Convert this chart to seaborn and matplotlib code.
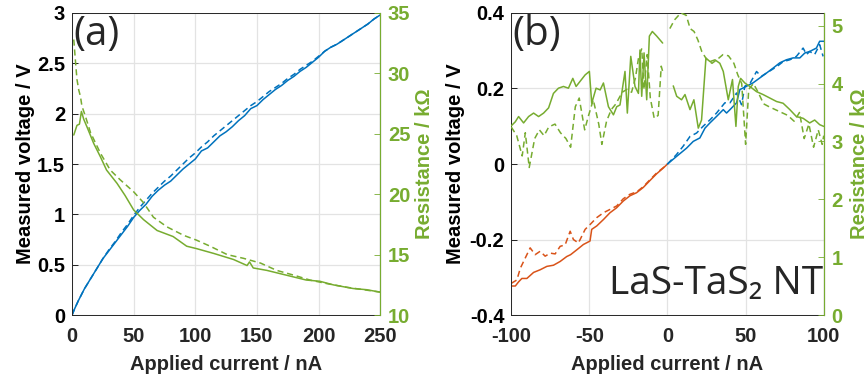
import pandas as pd
import seaborn as sns
import matplotlib.pyplot as plt
import numpy as np

BLUE = '#0072BD'
ORANGE = '#D95319'
GREEN = '#77AC30'
DARK = '#262626'

# ---- panel (a): 0..250 nA ----
cur_a = [0, 2, 5, 10, 15, 20, 25, 30, 35, 40, 45, 50, 55, 60, 65, 70, 75, 80, 85, 90,
         95, 100, 105, 110, 115, 120, 125, 130, 135, 140, 145, 150, 155, 160, 165, 170,
         175, 180, 185, 190, 195, 200, 205, 210, 215, 220, 225, 230, 235, 240, 245, 250]
volt_a_solid = [0, 0.06, 0.14, 0.26, 0.36, 0.46, 0.56, 0.64, 0.72, 0.80, 0.88, 0.97, 1.04,
                1.10, 1.18, 1.24, 1.29, 1.33, 1.39, 1.45, 1.50, 1.55, 1.63, 1.66, 1.72, 1.78,
                1.82, 1.87, 1.93, 1.98, 2.05, 2.08, 2.14, 2.19, 2.24, 2.28, 2.33, 2.37, 2.42,
                2.46, 2.51, 2.56, 2.62, 2.66, 2.69, 2.73, 2.77, 2.81, 2.85, 2.89, 2.94, 2.98]
volt_a_dash = [0, 0.06, 0.14, 0.26, 0.36, 0.46, 0.56, 0.65, 0.73, 0.82, 0.90, 0.99, 1.07,
               1.14, 1.21, 1.27, 1.33, 1.38, 1.44, 1.50, 1.56, 1.61, 1.67, 1.72, 1.78, 1.83,
               1.88, 1.93, 1.98, 2.03, 2.08, 2.12, 2.17, 2.22, 2.26, 2.30, 2.35, 2.39, 2.44,
               2.48, 2.52, 2.57, 2.62, 2.66, 2.69, 2.73, 2.77, 2.81, 2.85, 2.89, 2.94, 2.98]

res_a_cur_solid = [1.4, 4, 6, 7.6, 9.5, 12, 17.6, 23, 28, 36.5, 43, 50, 58, 69, 82, 93, 101,
                   115, 131, 142, 144, 147, 158, 174, 190, 201, 212, 228, 239, 250]
res_a_solid = [24.9, 25.7, 25.8, 26.85, 26.2, 25.6, 24.2, 23.1, 22.0, 20.9, 19.9, 18.7, 17.9,
               17.0, 16.5, 15.7, 15.5, 15.1, 14.6, 14.1, 14.4, 13.9, 13.7, 13.3, 12.9, 12.8,
               12.5, 12.2, 12.1, 11.9]
res_a_cur_dash = [1.4, 2.7, 4, 5.5, 6.8, 8, 11, 15, 23, 31, 39, 50, 58, 66, 77, 90.5, 101,
                  112, 126, 139, 153, 166, 180, 193, 207, 223, 250]
res_a_dash = [32.8, 31.1, 29.5, 28.6, 28.1, 27.3, 26.4, 25.1, 23.4, 22.0, 21.2, 20.2, 19.3,
              18.1, 17.3, 16.6, 16.2, 15.7, 15.0, 14.7, 14.3, 13.7, 13.3, 12.9, 12.6, 12.3, 11.9]

# ---- panel (b): -100..100 nA ----
cur_b_neg_solid = [-100, -97.4, -95.3, -93.2, -90, -85.7, -81.5, -77.2, -73, -68.7, -64.5,
                   -62, -58, -53.8, -49.6, -48.5, -45.3, -41, -36.8, -32.6, -28.3, -24,
                   -19.8, -15.5, -11.3, -7, -2.8, 0]
volt_b_neg_solid = [-0.323, -0.323, -0.312, -0.303, -0.303, -0.287, -0.28, -0.271, -0.268,
                    -0.258, -0.245, -0.24, -0.227, -0.213, -0.204, -0.173, -0.164, -0.147,
                    -0.129, -0.116, -0.098, -0.084, -0.076, -0.062, -0.044, -0.026, -0.011, 0]
cur_b_neg_dash = [-100, -96.4, -94.2, -92.1, -87.9, -84.7, -81.5, -78.3, -75, -71.9, -68.7,
                  -65.5, -62.3, -60.2, -57, -52.7, -49.5, -45.3, -41, -36.7, -32.5, -28.3,
                  -24, -19.8, -15.5, -11.3, -7, -2.8, 0]
volt_b_neg_dash = [-0.316, -0.307, -0.276, -0.258, -0.222, -0.24, -0.231, -0.244, -0.236,
                   -0.238, -0.218, -0.214, -0.178, -0.2, -0.209, -0.173, -0.16, -0.142,
                   -0.129, -0.12, -0.111, -0.092, -0.08, -0.074, -0.06, -0.042, -0.024,
                   -0.01, 0]
cur_b_pos_solid = [0, 5.75, 12.2, 16.5, 20.7, 24, 27.2, 31.4, 35.7, 37.8, 40, 44.2, 46.3,
                   50.6, 54.8, 59.1, 63.4, 67.6, 71.9, 76.1, 80.4, 84.7, 87.9, 91, 95.3,
                   97.4, 100]
volt_b_pos_solid = [0, 0.02, 0.042, 0.06, 0.069, 0.095, 0.109, 0.126, 0.144, 0.135, 0.144,
                    0.162, 0.197, 0.206, 0.215, 0.228, 0.241, 0.254, 0.268, 0.276, 0.281,
                    0.281, 0.294, 0.298, 0.307, 0.325, 0.325]
cur_b_pos_dash = [0, 5.75, 10, 14.4, 18.6, 22.8, 27.2, 31.4, 36.7, 40, 44.2, 47.4, 49.5,
                  53, 57, 60, 63.4, 70, 74, 78.3, 82.5, 86.8, 89, 91, 94.2, 97.4, 99.6]
volt_b_pos_dash = [0, 0.025, 0.047, 0.073, 0.082, 0.1, 0.117, 0.135, 0.162, 0.162, 0.188,
                   0.157, 0.206, 0.215, 0.245, 0.232, 0.241, 0.258, 0.271, 0.276, 0.285,
                   0.307, 0.29, 0.298, 0.29, 0.316, 0.285]

res_b_cur_neg_solid = [-100, -97.4, -95.3, -92.1, -88.9, -85.7, -82.5, -79.3, -76.1, -73,
                       -69.8, -66.6, -63.4, -60.6, -58.5, -55.9, -52.7, -50, -48.5, -45.7,
                       -43.1, -41, -37.8, -34.6, -32.5, -30.4, -27.2, -25.7, -23.5, -20.8,
                       -18.6, -17.6, -16.5, -15, -13.3, -11.6, -9.7, -6.9, -3.1]
res_b_neg_solid = [3.27, 3.34, 3.43, 3.32, 3.43, 3.49, 3.43, 3.49, 3.58, 3.83, 3.92, 3.95,
                   3.92, 4.09, 3.95, 4.04, 4.15, 4.21, 3.66, 3.92, 3.89, 4.01, 3.60, 3.46,
                   3.6, 3.63, 4.21, 3.49, 4.47, 3.95, 3.83, 4.58, 3.78, 4.53, 3.72, 4.82,
                   4.9, 4.82, 4.7]
res_b_cur_pos_solid = [3.7, 5.9, 9, 11.2, 14.4, 16.9, 19.7, 21.8, 24.6, 27.2, 30.4, 33.5,
                       35.7, 38.9, 41.6, 43.8, 45.3, 46.8, 49.5, 52.7, 57, 61.2, 65.5, 69.8,
                       74, 78.3, 82.5, 86.8, 91, 94.2, 97.4, 100]
res_b_pos_solid = [3.96, 3.78, 3.72, 3.81, 3.55, 3.72, 3.23, 3.37, 4.44, 4.38, 4.41, 4.35,
                   4.21, 3.72, 4.07, 3.26, 3.95, 4.09, 4.01, 3.95, 3.86, 3.81, 3.75, 3.69,
                   3.66, 3.55, 3.43, 3.40, 3.32, 3.37, 3.29, 3.26]
res_b_cur_neg_dash = [-100, -96.5, -93, -91, -88.5, -85, -82, -79, -76, -72, -68.5, -65,
                      -62, -59, -56.5, -53, -50.5, -47.5, -44, -42, -39, -36, -33, -29,
                      -26, -23, -20.5, -18.5, -16.5, -15, -13, -11, -8.5, -6, -4, -3]
res_b_neg_dash = [3.25, 3.1, 2.75, 3.15, 2.55, 3.05, 3.2, 3.1, 3.25, 3.3, 3.15, 3.05, 2.9,
                  3.6, 3.75, 3.2, 3.45, 3.72, 3.3, 2.95, 3.35, 3.55, 3.65, 3.85, 3.9, 3.85,
                  4.1, 4.45, 4.6, 3.9, 4.5, 3.75, 3.4, 3.45, 4.3, 4.2]
res_b_cur_pos_dash = [1.5, 4.5, 8.5, 12, 14.5, 17, 19.5, 22, 25, 28.5, 32, 35.5, 39, 42.5,
                      45, 47.5, 50, 52, 55, 58, 61.5, 65, 69, 73, 77, 81, 84.5, 87.5, 90.5,
                      93.5, 96.5, 99, 100]
res_b_pos_dash = [4.95, 5.1, 5.22, 5.18, 4.95, 4.9, 4.75, 4.55, 4.42, 4.35, 4.42, 4.5, 4.48,
                  4.35, 4.15, 4.0, 2.95, 3.9, 4.0, 3.85, 3.65, 3.6, 3.55, 3.5, 3.45, 3.35,
                  3.5, 3.05, 3.3, 2.9, 3.2, 2.95, 3.1]

sns.set_style("white")
plt.rcParams['font.family'] = ['Liberation Sans', 'DejaVu Sans']


def line(ax, x, y, color, dashed=False):
    d = pd.DataFrame({'x': x, 'y': y})
    sns.lineplot(data=d, x='x', y='y', ax=ax, color=color, lw=1.1, sort=False,
                 estimator=None, linestyle=(0, (4, 2.5)) if dashed else '-')


def style(ax, ax2, xlim, xticks, ylim, yticks, ylim2, yticks2, lab_l, lab_r):
    ax.set_xlim(*xlim)
    ax.set_ylim(*ylim)
    ax2.set_ylim(*ylim2)
    ax.set_xticks(xticks)
    ax.set_yticks(yticks)
    ax2.set_yticks(yticks2)
    fs = 14.5
    ax.set_xticklabels([f'{v:g}' for v in xticks], fontweight='bold', fontsize=fs, color=DARK)
    ax.set_yticklabels([f'{v:g}' for v in yticks], fontweight='bold', fontsize=fs, color='black')
    ax2.set_yticklabels([f'{v:g}' for v in yticks2], fontweight='bold', fontsize=fs, color=GREEN)
    ax.grid(True, color='#e3e3e3', lw=0.9)
    ax.set_axisbelow(True)
    ax.tick_params(axis='x', direction='in', length=4, width=0.6, pad=8.5, colors=DARK)
    ax.tick_params(axis='y', direction='in', length=4, width=0.6, pad=5, colors='black')
    ax2.tick_params(direction='in', length=4, width=0.6, colors=GREEN, pad=5.5)
    for s in ['left', 'bottom', 'top']:
        ax.spines[s].set_color(DARK)
        ax.spines[s].set_linewidth(0.7)
    ax2.spines['right'].set_color(GREEN)
    ax2.spines['right'].set_linewidth(0.8)
    for s in ['left', 'bottom', 'top']:
        ax2.spines[s].set_visible(False)
    ax.set_xlabel('Applied current / nA', fontsize=14.5, fontweight='bold', color=DARK)
    ax.set_ylabel('Measured voltage / V', fontsize=14.5, fontweight='bold', color='black')
    ax2.set_ylabel('Resistance / k\u03a9', fontsize=14.5, fontweight='bold', color=GREEN)
    ax.xaxis.set_label_coords(0.5, -0.132)
    ax.yaxis.set_label_coords(lab_l, 0.5)
    ax2.yaxis.set_label_coords(lab_r, 0.5)


fig = plt.figure(figsize=(8.68, 3.81), dpi=100)
ax_a = fig.add_axes([0.083, 0.173, 0.355, 0.793])
ax_a2 = ax_a.twinx()
ax_b = fig.add_axes([0.589, 0.173, 0.360, 0.793])
ax_b2 = ax_b.twinx()

# panel (a)
line(ax_a, cur_a, volt_a_solid, BLUE)
line(ax_a, cur_a, volt_a_dash, BLUE, dashed=True)
line(ax_a2, res_a_cur_solid, res_a_solid, GREEN)
line(ax_a2, res_a_cur_dash, res_a_dash, GREEN, dashed=True)
style(ax_a, ax_a2, (0, 250), [0, 50, 100, 150, 200, 250], (0, 3),
      [0, 0.5, 1, 1.5, 2, 2.5, 3], (10, 35), [10, 15, 20, 25, 30, 35], -0.12, 1.114)
ax_a.text(0.005, 0.995, '(a)', transform=ax_a.transAxes, ha='left', va='top',
          fontsize=29, family=['Open Sans', 'DejaVu Sans'])

# panel (b)
line(ax_b, cur_b_neg_solid, volt_b_neg_solid, ORANGE)
line(ax_b, cur_b_neg_dash, volt_b_neg_dash, ORANGE, dashed=True)
line(ax_b, cur_b_pos_solid, volt_b_pos_solid, BLUE)
line(ax_b, cur_b_pos_dash, volt_b_pos_dash, BLUE, dashed=True)
line(ax_b2, res_b_cur_neg_solid, res_b_neg_solid, GREEN)
line(ax_b2, res_b_cur_pos_solid, res_b_pos_solid, GREEN)
line(ax_b2, res_b_cur_neg_dash, res_b_neg_dash, GREEN, dashed=True)
line(ax_b2, res_b_cur_pos_dash, res_b_pos_dash, GREEN, dashed=True)
style(ax_b, ax_b2, (-100, 100), [-100, -50, 0, 50, 100], (-0.4, 0.4),
      [-0.4, -0.2, 0, 0.2, 0.4], (0, 5.22), [0, 1, 2, 3, 4, 5], -0.147, 1.083)
ax_b.text(0.005, 0.995, '(b)', transform=ax_b.transAxes, ha='left', va='top',
          fontsize=29, family=['Open Sans', 'DejaVu Sans'])
ax_b.text(0.998, 0.07, 'LaS-TaS\u2082 NT', transform=ax_b.transAxes, ha='right', va='baseline',
          fontsize=28, family=['Open Sans', 'DejaVu Sans'])

fig.savefig('out.png', dpi=100)
